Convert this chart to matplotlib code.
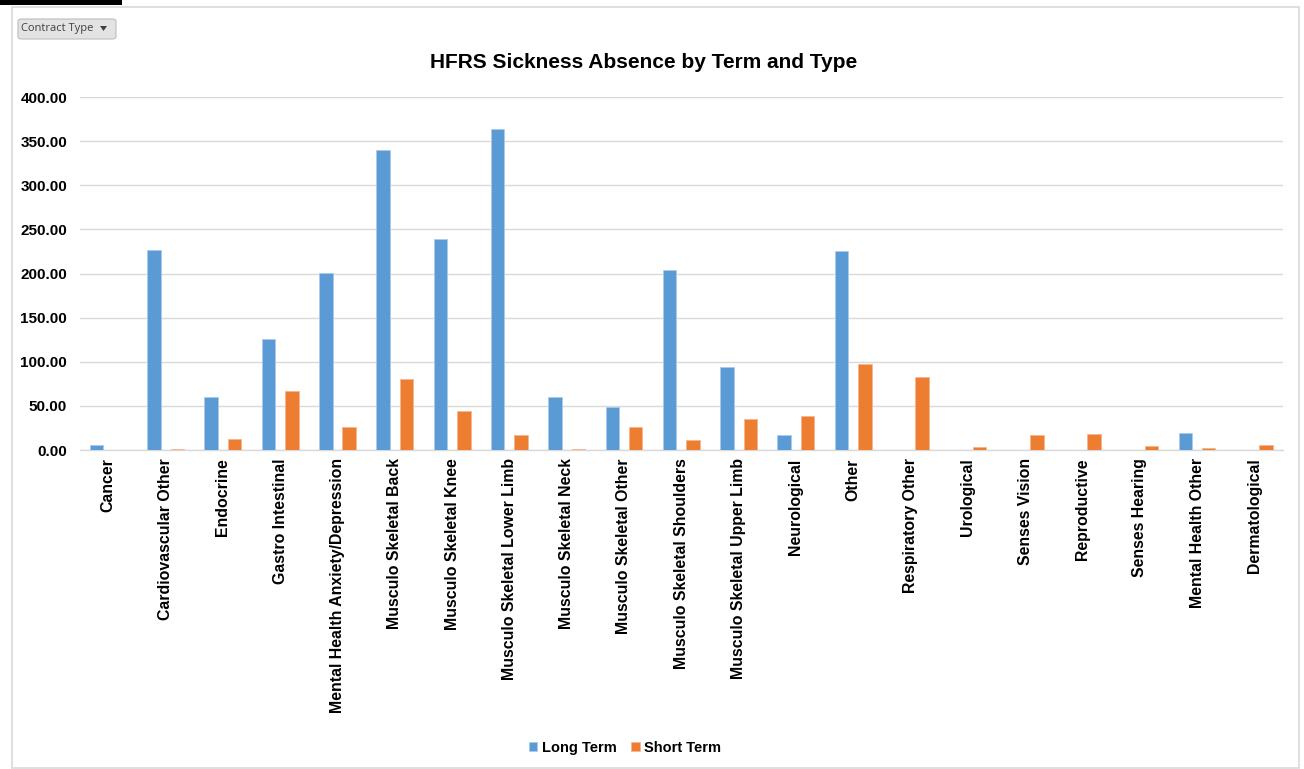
import matplotlib
matplotlib.use("Agg")
import matplotlib.pyplot as plt
from matplotlib.patches import Rectangle, FancyBboxPatch, Polygon
import numpy as np

categories = ["Cancer", "Cardiovascular Other", "Endocrine", "Gastro Intestinal",
              "Mental Health Anxiety/Depression", "Musculo Skeletal Back",
              "Musculo Skeletal Knee", "Musculo Skeletal Lower Limb",
              "Musculo Skeletal Neck", "Musculo Skeletal Other",
              "Musculo Skeletal Shoulders", "Musculo Skeletal Upper Limb",
              "Neurological", "Other", "Respiratory Other", "Urological",
              "Senses Vision", "Reproductive", "Senses Hearing",
              "Mental Health Other", "Dermatological"]
long_term = [5.5, 226.5, 60.5, 126.0, 201.0, 340.0, 239.5, 363.5, 60.5, 48.5,
             204.5, 94.5, 16.5, 225.0, 0, 0, 0, 0, 0, 19.5, 0]
short_term = [0, 1.0, 13.0, 67.0, 26.5, 80.0, 44.0, 17.0, 1.0, 26.5,
              11.5, 35.5, 38.5, 97.0, 83.0, 3.5, 16.5, 18.5, 4.5, 2.5, 5.5]
series_names = ["Long Term", "Short Term"]
yticks = [0, 50, 100, 150, 200, 250, 300, 350, 400]
title = "HFRS Sickness Absence by Term and Type"

BLUE = "#5B9BD5"
ORANGE = "#ED7D31"
W, H = 1304, 769

plt.rcParams['font.family'] = ['Liberation Sans', 'DejaVu Sans']
fig = plt.figure(figsize=(W / 100, H / 100), dpi=100)

def fx(px):
    return px / W

def fy(py):
    return 1 - py / H

# chart frame
fig.patches.append(Rectangle((fx(12), fy(768)), fx(1299 - 12), (768 - 7) / H,
                             transform=fig.transFigure, facecolor="none",
                             edgecolor="#D9D9D9", linewidth=1.2, zorder=-1))
# black bar at top-left
fig.patches.append(Rectangle((0, fy(5)), fx(122), 5 / H, transform=fig.transFigure,
                             facecolor="black", edgecolor="none", zorder=1))
# Contract Type button
fig.patches.append(FancyBboxPatch((fx(18), fy(39)), fx(98), 20 / H,
                                  boxstyle="round,pad=0,rounding_size=0.003",
                                  transform=fig.transFigure, facecolor="#E3E3E3",
                                  edgecolor="#BDBDBD", linewidth=0.8, zorder=2))
fig.text(fx(21), fy(29), "Contract Type", fontsize=8, family=["Open Sans", "DejaVu Sans"],
         color="#404040", va="center", ha="left", zorder=3)
fig.patches.append(Polygon([(fx(100), fy(26)), (fx(107), fy(26)), (fx(103.5), fy(31))],
                           closed=True, transform=fig.transFigure,
                           facecolor="#404040", edgecolor="none", zorder=3))

left, right, top, bottom = 79.6, 1283, 97, 450
ax = fig.add_axes([fx(left), fy(bottom), fx(right - left), (bottom - top) / H])
ax.set_facecolor("none")
ax.set_zorder(5)

x = np.arange(len(categories))
bw = 0.235
off = 0.204
ax.bar(x - off, long_term, bw, color=BLUE, edgecolor="#A9CBEA", linewidth=0.6,
       label=series_names[0], zorder=3)
ax.bar(x + off, short_term, bw, color=ORANGE, edgecolor="#F6B58E", linewidth=0.6,
       label=series_names[1], zorder=3)

ax.set_xlim(-0.5, len(categories) - 0.5)
ax.set_ylim(0, 400)
ax.set_yticks(yticks)
ax.set_yticklabels([f"{v:.2f}" for v in yticks], fontsize=11, fontweight="bold")
ax.set_xticks(x)
ax.set_xticklabels(categories, rotation=90, fontsize=11.4, fontweight="bold")
ax.tick_params(axis="both", length=0)
ax.tick_params(axis="x", pad=6)
ax.tick_params(axis="y", pad=9)
ax.grid(axis="y", color="#D9D9D9", linewidth=1.0, zorder=0)
for s in ["top", "right", "left"]:
    ax.spines[s].set_visible(False)
ax.spines["bottom"].set_color("#D9D9D9")
ax.spines["bottom"].set_linewidth(1.0)

fig.text(fx(644), fy(62), title, fontsize=15, fontweight="bold", ha="center", va="center")

handles, labels = ax.get_legend_handles_labels()
leg = fig.legend(handles, labels, loc="center", bbox_to_anchor=(fx(625), fy(748)), ncol=2,
                 frameon=False, prop={"weight": "bold", "size": 10.5},
                 handlelength=0.6, handleheight=0.6, handletextpad=0.3, columnspacing=1.0)

fig.savefig("out.png", dpi=100)
